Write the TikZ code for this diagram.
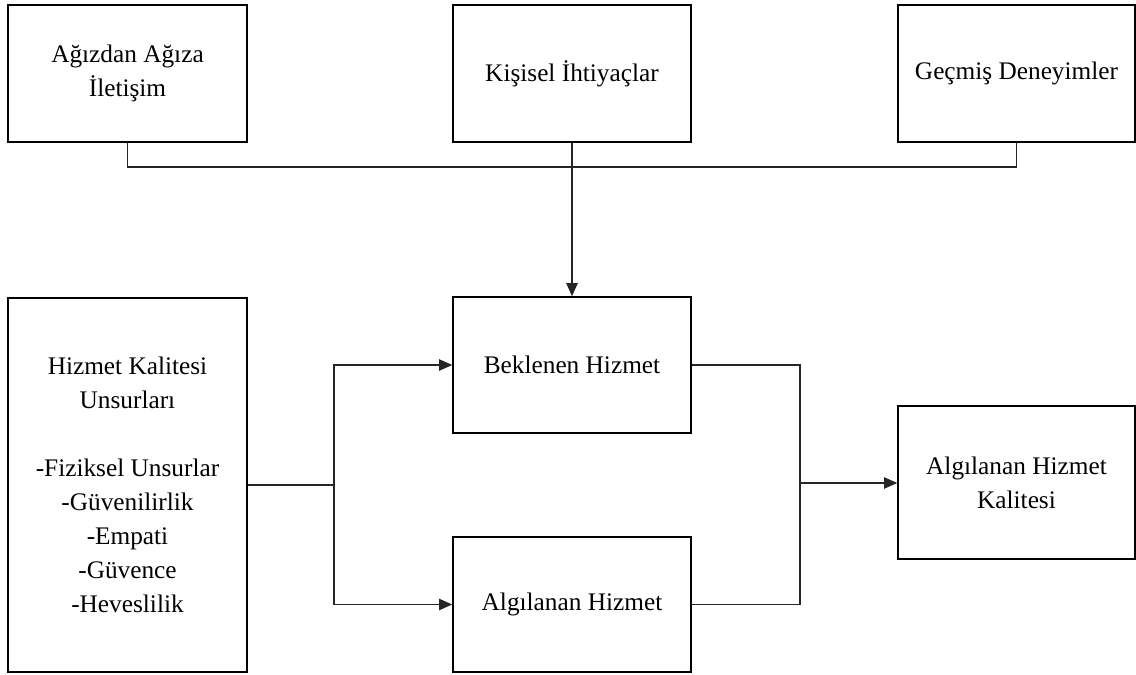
\documentclass[tikz,border=0pt]{standalone}
\usepackage{fontspec}
\setmainfont{Liberation Serif}
\usetikzlibrary{arrows.meta}
\begin{document}
\begin{tikzpicture}[x=0.02cm,y=-0.02cm,
  box/.style={draw=black,line width=0.9pt,inner sep=0pt,align=center,
    font=\fontsize{14.4}{19.3}\selectfont},
  conn/.style={draw=black!85,line width=0.6pt},
  arr/.style={conn,-{Triangle[length=7.5pt,width=6.5pt]}}]
\useasboundingbox (0,0) rectangle (1136,675);
\node[box,minimum width=4.78cm,minimum height=2.74cm] (b1) at (127.5,73.5) {Ağızdan Ağıza\\İletişim};
\node[box,minimum width=4.76cm,minimum height=2.74cm] (b2) at (572,73.5) {Kişisel İhtiyaçlar};
\node[box,minimum width=4.74cm,minimum height=2.74cm] (b3) at (1016.5,73.5) {Geçmiş Deneyimler};
\node[box,minimum width=4.78cm,minimum height=7.48cm] (left) at (127.5,485) {Hizmet Kalitesi\\Unsurları\\[19.3pt]-Fiziksel Unsurlar\\-Güvenilirlik\\-Empati\\-Güvence\\-Heveslilik};
\node[box,minimum width=4.76cm,minimum height=2.72cm] (bek) at (572,365) {Beklenen Hizmet};
\node[box,minimum width=4.76cm,minimum height=2.70cm] (alg) at (572,604.5) {Algılanan Hizmet};
\node[box,minimum width=4.74cm,minimum height=3.06cm] (right) at (1016.5,482.5) {Algılanan Hizmet\\Kalitesi};
\coordinate (j1) at (572,167);
\coordinate (jl) at (334,485);
\coordinate (jr) at (800,483);
\draw[conn] (b1.south) |- (j1) -| (b3.south);
\draw[conn] (b2.south) -- (j1);
\draw[arr,line width=0.9pt] (j1) -- (bek.north);
\draw[conn] (left.east |- jl) -- (jl);
\draw[arr] (jl) |- (bek.west);
\draw[arr] (jl) |- (alg.west);
\draw[conn] (bek.east) -| (jr);
\draw[conn] (alg.east) -| (jr);
\draw[arr] (jr) -- (right.west |- jr);
\end{tikzpicture}
\end{document}
